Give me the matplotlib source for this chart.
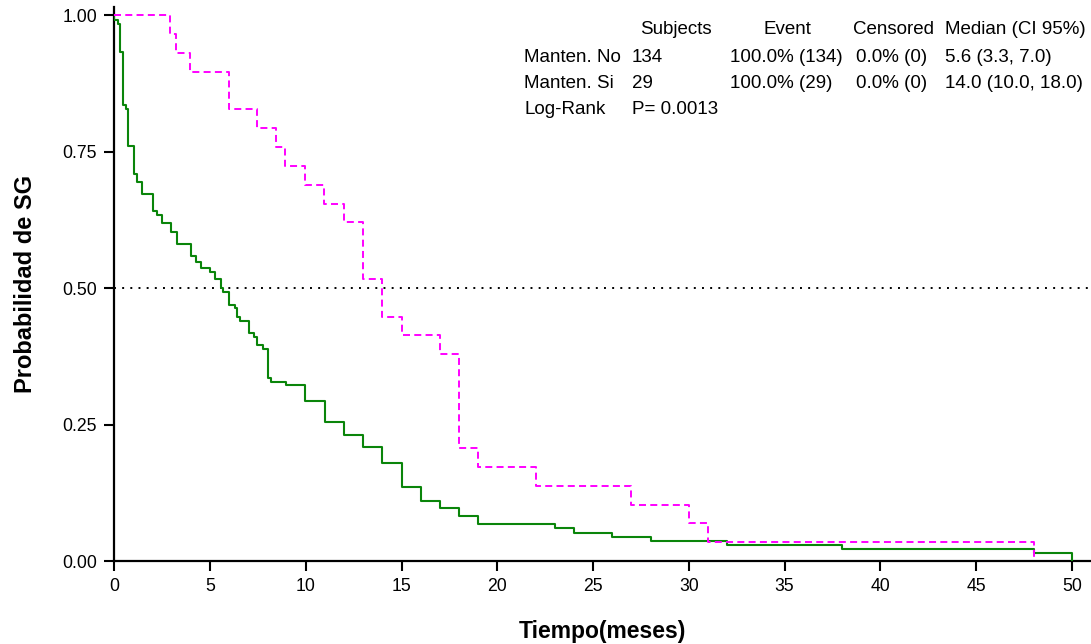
import matplotlib
matplotlib.use("Agg")
import matplotlib.pyplot as plt

plt.rcParams["font.family"] = ["Liberation Sans", "DejaVu Sans"]

# Kaplan-Meier estimates, group "Manten. No" (n=134)
time_no = [0.0, 0.0, 0.2, 0.29, 0.46, 0.59, 0.69, 0.73, 1.04, 1.2, 1.46, 2.03, 2.21, 2.5,
           2.97, 3.25, 3.98, 4.24, 4.53, 4.99, 5.25, 5.55, 5.68, 6.0, 6.28, 6.43, 6.54,
           7.03, 7.29, 7.47, 7.76, 8.03, 8.2, 8.96, 9.97, 11.0, 12.0, 13.0, 14.0, 15.0,
           16.0, 17.0, 18.0, 19.0, 23.0, 24.0, 26.0, 28.0, 32.0, 38.0, 48.0, 50.0]
surv_no = [1.0, 0.9925, 0.985, 0.933, 0.836, 0.828, 0.821, 0.761, 0.709, 0.694, 0.672,
           0.642, 0.634, 0.619, 0.604, 0.582, 0.560, 0.548, 0.537, 0.530, 0.517, 0.500,
           0.4925, 0.470, 0.463, 0.448, 0.440, 0.418, 0.410, 0.396, 0.388, 0.336, 0.328,
           0.3223, 0.293, 0.255, 0.2304, 0.2083, 0.179, 0.1348, 0.110, 0.098, 0.0827,
           0.0672, 0.0597, 0.0522, 0.0448, 0.0373, 0.0299, 0.0224, 0.0149, 0.0]

# Kaplan-Meier estimates, group "Manten. Si" (n=29)
time_si = [0.0, 2.9, 3.2, 3.95, 5.97, 7.45, 8.44, 8.9, 9.95, 10.95, 12.0, 13.0, 14.0,
           15.0, 17.0, 18.0, 19.0, 22.0, 27.0, 30.0, 31.0, 48.0]
surv_si = [1.0, 0.9655, 0.931, 0.897, 0.828, 0.793, 0.759, 0.724, 0.690, 0.655, 0.621,
           0.517, 0.448, 0.414, 0.379, 0.207, 0.172, 0.138, 0.103, 0.069, 0.0345, 0.0]

x_ticks = [0, 5, 10, 15, 20, 25, 30, 35, 40, 45, 50]
y_ticks = [0.0, 0.25, 0.5, 0.75, 1.0]

table_header = ["Subjects", "Event", "Censored", "Median (CI 95%)"]
table_rows = [
    ["Manten. No", "134", "100.0% (134)", "0.0% (0)", "5.6 (3.3, 7.0)"],
    ["Manten. Si", "29", "100.0% (29)", "0.0% (0)", "14.0 (10.0, 18.0)"],
]
log_rank = ["Log-Rank", "P= 0.0013"]

W, H = 1091, 644
fig = plt.figure(figsize=(W / 100, H / 100), dpi=100)
ax = fig.add_axes([114.3 / W, 1 - 561 / H, (W - 114.3) / W, (561 - 7.3) / H])

ax.axhline(0.5, color="black", lw=1.4, linestyle=(0, (1, 3.2)), zorder=1)
ax.step(time_no, surv_no, where="post", color="#0a850a", lw=1.5, zorder=3)
ax.step(time_si, surv_si, where="post", color="#ff00ff", lw=1.4,
        linestyle=(0, (3.6, 2.2)), zorder=4)

ax.set_xlim(0, 51)
ax.set_ylim(0, 1.015)
ax.set_xticks(x_ticks)
ax.set_yticks(y_ticks)
ax.set_yticklabels([f"{v:.2f}" for v in y_ticks])
ax.tick_params(labelsize=12.7, length=7.5, width=1.5, color="black", pad=5)
for side in ("top", "right"):
    ax.spines[side].set_visible(False)
for side in ("left", "bottom"):
    ax.spines[side].set_linewidth(1.6)

ax.set_xlabel("Tiempo(meses)", fontsize=16.5, fontweight="bold", labelpad=18)
ax.set_ylabel("Probabilidad de SG", fontsize=17, fontweight="bold", labelpad=18)

# summary table in the upper right corner
fs = 13.5
def put(px, py, s, ha="left"):
    fig.text(px / W, 1 - py / H, s, fontsize=fs, ha=ha, va="center")

header_x = [676, 787, 894, 945]
for i, s in enumerate(table_header):
    put(header_x[i], 30, s, ha="left" if i == 3 else "center")
col_x = [524, 632, 730, 856, 945]
for r, row in enumerate(table_rows):
    for c, s in enumerate(row):
        put(col_x[c], 57 + r * 26.5, s)
put(524, 110, log_rank[0])
put(632, 110, log_rank[1])

fig.savefig("out.png", dpi=100)
